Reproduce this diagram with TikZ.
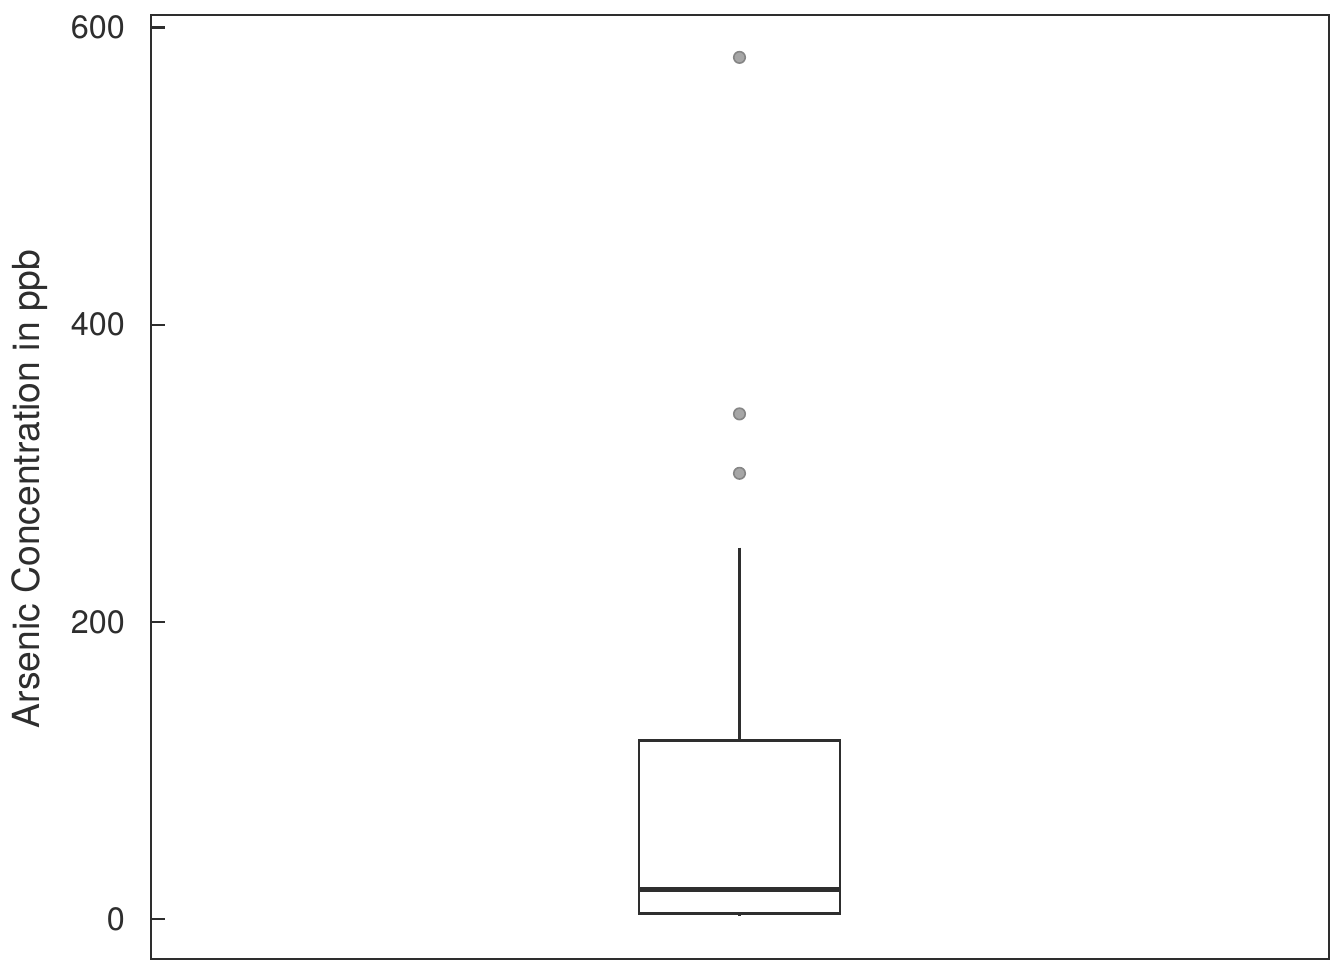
\documentclass[tikz,border=0pt]{standalone}
\usepackage{fontspec}
\setmainfont{TeX Gyre Heros}
\usepackage{xcolor}
\usetikzlibrary{positioning,calc}
\definecolor{darkline}{HTML}{2E2E2E}
\definecolor{dotfill}{HTML}{A6A6A6}
\definecolor{dotline}{HTML}{858585}

\begin{document}
\begin{tikzpicture}[x=0.01cm,y=0.01cm,semithick]
	\tikzstyle{frame} = [draw=darkline,line width=0.45pt]
	\tikzstyle{boxpart} = [draw=darkline,line width=0.85pt]
	\tikzstyle{median} = [draw=darkline,line width=1.5pt]
	\tikzstyle{outlier} = [circle,draw=dotline,fill=dotfill,line width=0.45pt,inner sep=0pt,minimum size=1.15mm]
	\tikzstyle{ticklabel} = [anchor=east,font=\fontsize{9.2}{11}\selectfont,text=darkline,inner sep=0pt]
	
	\useasboundingbox (0,0) rectangle (1344,960);
	\fill[white] (0,0) rectangle (1344,960);
	
	% plot area
	\draw[frame] (151,1) rectangle (1329,945);
	
	% data scope: y in ppb
	\begin{scope}[yshift=0.41cm,y=0.01485cm]
		\foreach \v in {0,200,400,600}{
			\draw[frame,line width=0.7pt] (151,\v) -- (165,\v);
			\node[ticklabel] (tick\v) at (126,\v) {\v};
		}
		
		% box and whiskers
		\coordinate (wlow) at (739.5,2);
		\coordinate (whigh) at (739.5,250);
		\draw[boxpart,fill=white] (639,4) rectangle (840,120);
		\draw[boxpart] (whigh) -- (739.5,120);
		\draw[boxpart] (wlow) -- (739.5,4);
		\draw[median] (639,20) -- (840,20);
		
		% outliers
		\node[outlier] (o1) at (739.5,300) {};
		\node[outlier] (o2) at (739.5,340) {};
		\node[outlier] (o3) at (739.5,580) {};
	\end{scope}
	
	\node[rotate=90,font=\fontsize{10.6}{12}\selectfont,text=darkline] (ylab) at (30,471) {Arsenic Concentration in ppb};
	
\end{tikzpicture}
\end{document}
